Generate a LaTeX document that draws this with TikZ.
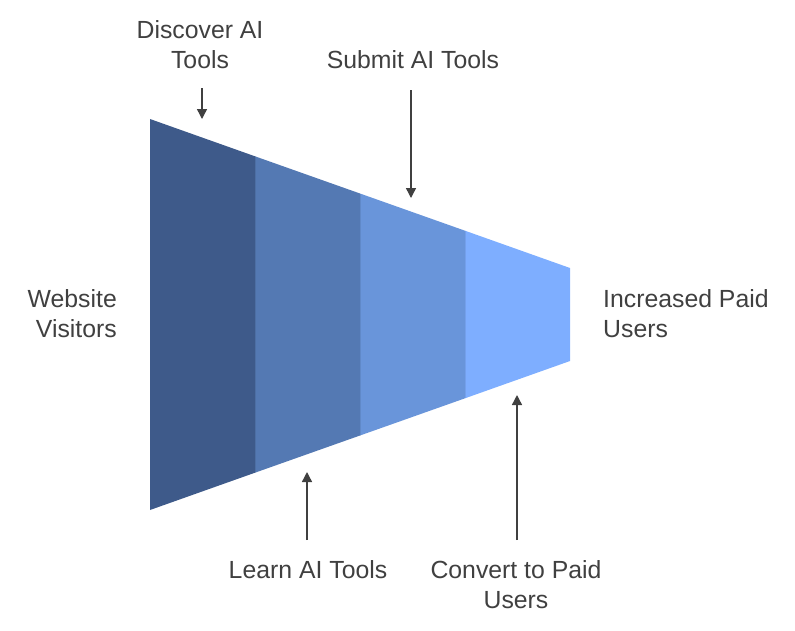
\documentclass[tikz,border=0pt]{standalone}
\usepackage{fontspec}
\setmainfont{Liberation Sans}
\usetikzlibrary{arrows.meta}
\definecolor{txt}{HTML}{404040}
\definecolor{stageA}{HTML}{3E5A8A}
\definecolor{stageB}{HTML}{5479B3}
\definecolor{stageC}{HTML}{6995DA}
\definecolor{stageD}{HTML}{7EAEFF}
\tikzset{
  label/.style={text=txt, font=\fontsize{24.8}{30}\selectfont, inner sep=0pt},
  pointer/.style={draw=txt, line width=1.4pt, -{Triangle[length=10pt,width=10pt]}},
  seam/.style={draw=black, draw opacity=0.08, line width=1pt}
}
\begin{document}
\begin{tikzpicture}[x=1pt,y=-1pt]
\useasboundingbox (0,0) rectangle (795,630);
% funnel outline points (top edge and bottom edge)
\coordinate (t0) at (150,119);   \coordinate (b0) at (150,510);
\coordinate (t1) at (255,156.3); \coordinate (b1) at (255,472.7);
\coordinate (t2) at (360,193.5); \coordinate (b2) at (360,435.5);
\coordinate (t3) at (465,230.7); \coordinate (b3) at (465,398.3);
\coordinate (t4) at (570,268);   \coordinate (b4) at (570,361);
% funnel stages
\fill[stageA] (t0) -- (t1) -- (b1) -- (b0) -- cycle;
\fill[stageB] (t1) -- (t2) -- (b2) -- (b1) -- cycle;
\fill[stageC] (t2) -- (t3) -- (b3) -- (b2) -- cycle;
\fill[stageD] (t3) -- (t4) -- (b4) -- (b3) -- cycle;
\draw[seam] (t1) -- (b1);
\draw[seam] (t2) -- (b2);
\draw[seam] (t3) -- (b3);
% labels
\node[label, align=center] (discover) at (200,45) {Discover AI\\Tools};
\node[label, align=center] (submit) at (413,60) {Submit AI Tools};
\node[label, align=right, anchor=east] (visitors) at (117,314) {Website\\Visitors};
\node[label, align=left, anchor=west] (paid) at (603,314) {Increased Paid\\Users};
\node[label, align=center] (learn) at (308,570) {Learn AI Tools};
\node[label, align=center] (convert) at (516,585) {Convert to Paid\\Users};
% pointer ends
\coordinate (pd0) at (202,88);  \coordinate (pd1) at (202,119);
\coordinate (ps0) at (411,90);  \coordinate (ps1) at (411,198);
\coordinate (pl0) at (307,540); \coordinate (pl1) at (307,472);
\coordinate (pc0) at (517,540); \coordinate (pc1) at (517,395);
\draw[pointer] (pd0) -- (pd1);
\draw[pointer] (ps0) -- (ps1);
\draw[pointer] (pl0) -- (pl1);
\draw[pointer] (pc0) -- (pc1);
\end{tikzpicture}
\end{document}
